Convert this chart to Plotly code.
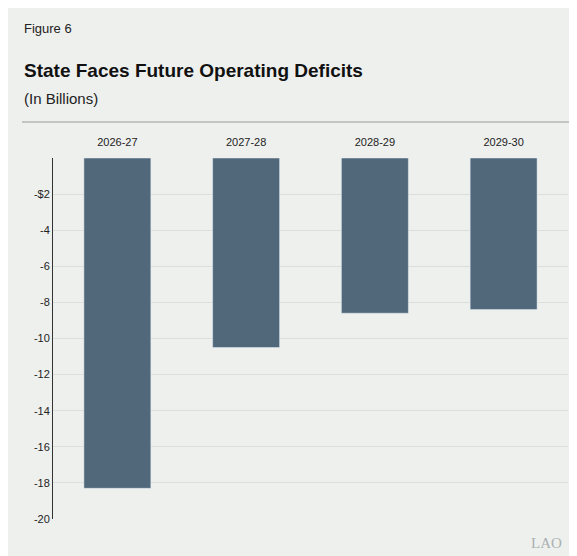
import plotly.graph_objects as go

years = ["2026-27", "2027-28", "2028-29", "2029-30"]
deficits = [-18.3, -10.5, -8.6, -8.4]
tick_vals = [0, -2, -4, -6, -8, -10, -12, -14, -16, -18, -20]
tick_text = ["", "-$2", "-4", "-6", "-8", "-10", "-12", "-14", "-16", "-18", "-20"]

bg = "#eef0ee"

fig = go.Figure(go.Bar(x=years, y=deficits, marker_color="#50687a", width=0.52))

fig.update_layout(
    width=577, height=556,
    paper_bgcolor=bg, plot_bgcolor=bg,
    margin=dict(l=45, r=17, t=150, b=45),
    font=dict(family="Liberation Sans, Arial", size=11, color="#222"),
    showlegend=False,
)
fig.update_xaxes(side="top", showline=False, ticks="", tickfont=dict(size=11),
                 ticklabelstandoff=9)
fig.update_yaxes(
    range=[-20, 0], tickvals=tick_vals, ticktext=tick_text,
    showgrid=True, gridcolor="#dcdedc", zeroline=False,
    showline=True, linecolor="#333", linewidth=1,
    ticks="outside", ticklen=0, tickfont=dict(size=11),
)

fig.add_annotation(text="Figure 6", x=14, y=20, showarrow=False,
                   xanchor="left", yanchor="middle", font=dict(size=13))
fig.add_annotation(text="<b>State Faces Future Operating Deficits</b>", x=14, y=62, showarrow=False,
                   xanchor="left", yanchor="middle", font=dict(size=19, color="#111"))
fig.add_annotation(text="(In Billions)", x=14, y=90, showarrow=False,
                   xanchor="left", yanchor="middle", font=dict(size=15))
fig.add_annotation(text="LAO", x=538, y=535, showarrow=False,
                   xanchor="center", yanchor="middle",
                   font=dict(size=15, color="#aab0b0", family="Liberation Serif"))

# convert pixel-positioned annotations to paper coords
pw, ph = 577 - 45 - 17, 556 - 150 - 45
for a in fig.layout.annotations:
    a.xref, a.yref = "paper", "paper"
    a.x = (a.x - 45) / pw
    a.y = (556 - 45 - a.y) / ph

fig.add_shape(type="line", xref="paper", yref="paper",
              x0=(14 - 45) / pw, x1=(562 - 45) / pw,
              y0=(556 - 45 - 114) / ph, y1=(556 - 45 - 114) / ph,
              line=dict(color="#999", width=1))

fig.write_html("out.html")
